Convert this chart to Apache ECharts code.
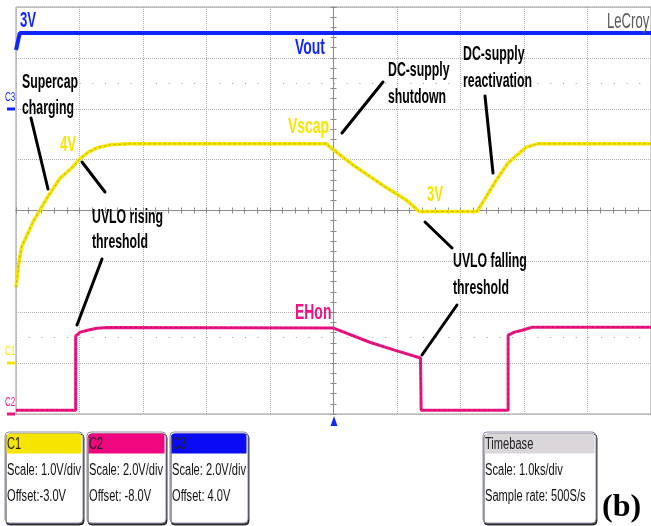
<!DOCTYPE html>
<html>
<head>
<meta charset="utf-8">
<script src="https://cdn.jsdelivr.net/npm/echarts@6/dist/echarts.min.js"></script>
<style>
  html, body { margin: 0; padding: 0; background: #ffffff; }
  #chart { width: 651px; height: 526px; }
</style>
</head>
<body>
<div id="chart"></div>
<script>
// ---- Captured waveforms (time in ks, relative to the trigger point) ----
// C1: supercapacitor voltage Vscap (V)
const vscapTime  = [-5.00, -4.95, -4.91, -4.73, -4.51, -4.31, -4.12, -3.99, -3.87, -3.71, -3.52, -3.21, -0.11, -0.03, 0.30, 0.83, 1.15, 1.35, 2.26, 2.37, 2.56, 2.74, 2.88, 3.03, 3.21, 5.00];
const vscapVolts = [ 1.49,  2.02,  2.29,  2.78,  3.25,  3.63,  3.84,  4.02,  4.14,  4.24,  4.29,  4.31,  4.31,  4.22, 3.90, 3.45, 3.20, 2.98, 2.98, 3.20, 3.59, 3.92, 4.08, 4.24, 4.31, 4.31];

// C2: harvester enable signal EHon (V)
const ehonTime  = [-5.00, -4.06, -4.06, -3.99, -3.87, -3.73, -3.55, 0.00, 0.57, 0.96, 1.37, 1.38, 2.75, 2.75, 2.85, 2.97, 3.13, 5.00];
const ehonVolts = [ 0.15,  0.15,  3.06,  3.22,  3.29,  3.37,  3.40, 3.38, 2.82, 2.51, 2.20, 0.15, 0.15, 3.10, 3.22, 3.29, 3.41, 3.41];

// C3: regulated output Vout (V)
const voutTime  = [-5.00, -4.94, 5.00];
const voutVolts = [ 2.31,  2.98, 2.98];

// ---- Channel / timebase readouts ----
const channelNames   = ['C1', 'C2', 'C3'];
const channelScales  = ['Scale: 1.0V/div', 'Scale: 2.0V/div', 'Scale: 2.0V/div'];
const channelOffsets = ['Offset:-3.0V', 'Offset: -8.0V', 'Offset: 4.0V'];
const timebaseLines  = ['Timebase', 'Scale: 1.0ks/div', 'Sample rate: 500S/s'];

const YELLOW = '#f6e500';
const PINK   = '#ec1583';
const BLUE   = '#1026ff';
const GRIDC  = '#b0b0b0';
const SANS   = '"Liberation Sans", Arial, sans-serif';

const zip = (xs, ys) => xs.map((x, i) => [x, ys[i]]);

const chart = echarts.init(document.getElementById('chart'), null, { renderer: 'canvas' });

// Graticule: 10 x 8 divisions, centre cross with 1/5-division ticks
const centreAxisX = (position) => ({
  type: 'value', min: -5, max: 5, interval: 1, position,
  axisLine: { show: true, onZero: true, onZeroAxisIndex: 0, lineStyle: { color: '#8c8c8c', width: 1 } },
  axisTick: { show: true, length: 3, lineStyle: { color: '#8c8c8c' } },
  minorTick: { show: true, splitNumber: 5, length: 3, lineStyle: { color: '#8c8c8c' } },
  axisLabel: { show: false },
  splitLine: { show: position === 'bottom', lineStyle: { color: GRIDC, type: 'dotted', width: 1 } }
});
const centreAxisY = (position) => ({
  type: 'value', min: -4, max: 4, interval: 1, position,
  axisLine: { show: true, onZero: true, onZeroAxisIndex: 0, lineStyle: { color: '#8c8c8c', width: 1 } },
  axisTick: { show: true, length: 3, lineStyle: { color: '#8c8c8c' } },
  minorTick: { show: true, splitNumber: 5, length: 3, lineStyle: { color: '#8c8c8c' } },
  axisLabel: { show: false },
  splitLine: { show: position === 'left', lineStyle: { color: GRIDC, type: 'dotted', width: 1 } }
});
// Per-channel vertical scales (volts), 8 divisions tall each
const channelAxis = (min, max) => ({ type: 'value', min, max, show: false, splitLine: { show: false } });

// Scope-style lettering: narrow, tall glyphs
function txt(text, x, y, o = {}) {
  return {
    type: 'text', x, y, z: 100, silent: true,
    scaleX: o.sx == null ? 0.82 : o.sx,
    scaleY: o.sy == null ? 1.35 : o.sy,
    style: {
      text, fill: o.color || '#000',
      fontSize: o.size || 15, fontWeight: o.weight || 'bold', fontFamily: o.family || SANS,
      align: o.align || 'left', verticalAlign: 'middle'
    }
  };
}
function leader(x1, y1, x2, y2) {
  return { type: 'line', z: 90, silent: true, shape: { x1, y1, x2, y2 }, style: { stroke: '#000', lineWidth: 3, lineCap: 'round' } };
}
function readoutBox(x, y, w, h, headColor, lines) {
  const children = [
    { type: 'rect', shape: { x, y, width: w, height: h, r: 4 },
      style: { fill: '#fff', stroke: '#8e8cab', lineWidth: 1, shadowColor: 'rgba(0,0,0,0.75)', shadowOffsetX: 1, shadowOffsetY: 2, shadowBlur: 0 } },
    { type: 'rect', shape: { x: x + 1.5, y: y + 1.5, width: w - 3, height: 20, r: [3, 3, 0, 0] }, style: { fill: headColor } }
  ];
  const ys = [y + 12, y + 38, y + 64];
  lines.forEach((t, i) => {
    children.push(txt(t, x + 2, ys[i], { size: 15, weight: 'normal', color: i === 0 ? '#222' : '#111', sx: 0.74, sy: 1.15 }));
  });
  return { type: 'group', children };
}

// thin dark texture running along a trace, as the scope's persistence render shows
const texture = (name, data, yAxisIndex, color) => ({
  name, type: 'line', xAxisIndex: 0, yAxisIndex, data, silent: true,
  showSymbol: false, lineStyle: { color, width: 1, type: [2, 3] }, z: 8
});

const option = {
  animation: false,
  backgroundColor: '#ffffff',
  grid: { left: 16, top: 7, width: 636, height: 407, show: true, borderColor: '#9a9a9a', borderWidth: 1, backgroundColor: 'transparent' },
  xAxis: [centreAxisX('bottom'), centreAxisX('top')],
  yAxis: [
    centreAxisY('left'),
    centreAxisY('right'),
    channelAxis(-1, 7),    // C1: 1 V/div, 3 V at centre
    channelAxis(0, 16),    // C2: 2 V/div, ground at bottom
    channelAxis(-12, 4)    // C3: 2 V/div, ground two divisions below top
  ],
  series: [
    {
      name: 'half-division markers', type: 'line', xAxisIndex: 0, yAxisIndex: 0, data: [], silent: true,
      markLine: {
        silent: true, symbol: 'none', label: { show: false },
        lineStyle: { color: '#9a9a9a', type: [1, 11.72], width: 1 },
        data: [{ yAxis: 2.5 }, { yAxis: -2.5 }]
      }
    },
    { name: 'Vout', type: 'line', xAxisIndex: 0, yAxisIndex: 4, data: zip(voutTime, voutVolts),
      showSymbol: false, lineStyle: { color: BLUE, width: 4 }, z: 5 },
    { name: 'EHon', type: 'line', xAxisIndex: 0, yAxisIndex: 3, data: zip(ehonTime, ehonVolts),
      showSymbol: false, lineStyle: { color: PINK, width: 3 }, z: 6 },
    texture('EHon texture', zip(ehonTime, ehonVolts), 3, 'rgba(130,0,60,0.45)'),
    { name: 'Vscap', type: 'line', xAxisIndex: 0, yAxisIndex: 2, data: zip(vscapTime, vscapVolts),
      showSymbol: false, lineStyle: { color: YELLOW, width: 3.5 }, z: 7 },
    texture('Vscap texture', zip(vscapTime, vscapVolts), 2, 'rgba(110,95,0,0.45)')
  ]
};
chart.setOption(option);

// ---- Annotations and scope readouts ----
const g = [];
// trace labels
g.push(txt('3V', 20, 21, { color: BLUE, size: 16 }));
g.push(txt('Vout', 295, 48, { color: BLUE, size: 17 }));
g.push(txt('4V', 60, 145, { color: YELLOW, size: 16 }));
g.push(txt('Vscap', 288, 127, { color: YELLOW, size: 17 }));
g.push(txt('3V', 427, 195, { color: YELLOW, size: 16 }));
g.push(txt('EHon', 295, 313, { color: PINK, size: 17 }));
g.push(txt('LeCroy', 607, 22, { color: '#5a5a5a', size: 16, weight: 'normal' }));
// event annotations
g.push(txt('Supercap', 22, 82));
g.push(txt('charging', 22, 108));
g.push(leader(31, 118, 48, 189));
g.push(txt('UVLO rising', 92, 217));
g.push(txt('threshold', 92, 242));
g.push(leader(82, 162, 105, 192));
g.push(leader(102, 259, 77, 325));
g.push(txt('DC-supply', 388, 70));
g.push(txt('shutdown', 388, 97));
g.push(leader(383, 82, 342, 133));
g.push(txt('DC-supply', 463, 54));
g.push(txt('reactivation', 463, 81));
g.push(leader(485, 96, 493, 173));
g.push(txt('UVLO falling', 453, 261));
g.push(txt('threshold', 453, 288));
g.push(leader(425, 222, 452, 248));
g.push(leader(457, 305, 422, 355));
// channel ground markers on the left edge
const markers = [['C3', BLUE, 109], ['C1', YELLOW, 363], ['C2', PINK, 414]];
markers.forEach(([name, color, y]) => {
  g.push(txt(name, 5, y - 12, { color, size: 10, weight: 'normal', sx: 0.8, sy: 1.3 }));
  g.push({ type: 'line', silent: true, shape: { x1: 7, y1: y, x2: 15, y2: y }, style: { stroke: color, lineWidth: 3 } });
});
// trigger position marker
g.push({ type: 'polygon', silent: true, shape: { points: [[334, 416], [330.5, 426], [337.5, 426]] }, style: { fill: BLUE } });
// readout boxes
const boxColors = [YELLOW, '#f0067f', '#0a0af5'];
const boxX = [5, 87, 170];
const boxW = [78, 79, 78];
channelNames.forEach((n, i) => {
  g.push(readoutBox(boxX[i], 432, boxW[i], 91, boxColors[i], [n, channelScales[i], channelOffsets[i]]));
});
g.push(readoutBox(483, 432, 113, 91, '#dad6da', timebaseLines));
g.push(txt('(b)', 602, 508, { size: 32, family: '"Liberation Serif", "Times New Roman", serif', sx: 1, sy: 1 }));

chart.setOption({ graphic: g });
</script>
</body>
</html>
